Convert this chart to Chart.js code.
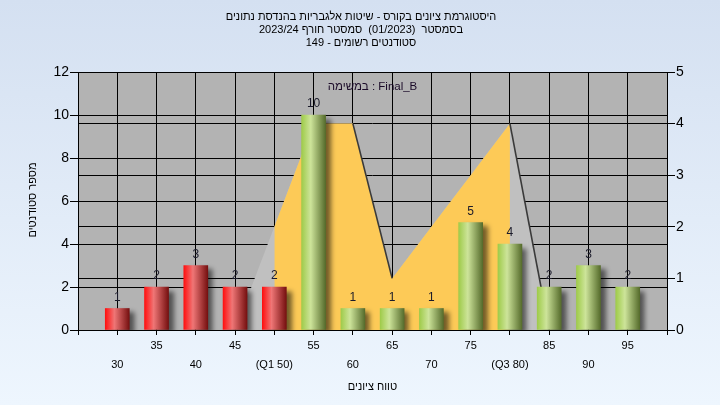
<!DOCTYPE html>
<html><head><meta charset="utf-8">
<script src="https://cdn.jsdelivr.net/npm/chart.js@4.4.1/dist/chart.umd.min.js"></script>
<style>html,body{margin:0;padding:0;background:#fff;}canvas{display:block;}</style>
</head><body>
<canvas id="c" width="720" height="405"></canvas>
<script>
// ---- data ----
const titleLines = [
  'היסטוגרמת ציונים בקורס - שיטות אלגבריות בהנדסת נתונים',
  'בסמסטר  (01/2023)  סמסטר חורף 2023/24',
  'סטודנטים רשומים - 149'
];
const xAxisTitle = 'טווח ציונים';
const yAxisTitle = 'מספר סטודנטים';
const taskNote = 'במשימה : Final_B';
const scoreBins = [30, 35, 40, 45, 50, 55, 60, 65, 70, 75, 80, 85, 90, 95];
const studentCounts = [1, 2, 3, 2, 2, 10, 1, 1, 1, 5, 4, 2, 3, 2];
const binLabels = ['30', '35', '40', '45', '(Q1 50)', '55', '60', '65', '70', '75', '(Q3 80)', '85', '90', '95'];
const passingScore = 55;
const curveX = [45, 50, 55, 60, 65, 70, 75, 80, 85];
const curveY = [0, 2, 4, 4, 1, 2, 3, 4, 0];
const q1 = 50, q3 = 80;
const leftTicks = [0, 12, 2];   // min, max, step
const rightTicks = [0, 5, 1];
const xRange = [25, 100, 5];

// ---- derived ----
const barPts = scoreBins.map((x, i) => ({ x: x, y: studentCounts[i] }));
const curvePts = curveX.map((x, i) => ({ x: x, y: curveY[i] }));
const orangePts = [{ x: q1, y: 0 }]
  .concat(curvePts.filter(p => p.x >= q1 && p.x <= q3))
  .concat([{ x: q3, y: 0 }]);

const FONT = "'Liberation Sans', Arial, sans-serif";
Chart.defaults.font.family = FONT;
Chart.defaults.color = '#000';

function barGradient(context) {
  const chart = context.chart;
  if (!chart.chartArea || !chart.scales.x) return '#c03030';
  const i = context.dataIndex;
  const x = chart.scales.x.getPixelForValue(scoreBins[i]);
  const g = chart.ctx.createLinearGradient(x - 12, 0, x + 12, 0);
  if (scoreBins[i] < passingScore) {
    g.addColorStop(0, '#ff1010');
    g.addColorStop(0.38, '#ef7676');
    g.addColorStop(1, '#761010');
  } else {
    g.addColorStop(0, '#9fcb4a');
    g.addColorStop(0.38, '#cde49a');
    g.addColorStop(1, '#566c2c');
  }
  return g;
}

const decor = {
  id: 'decor',
  beforeDraw(chart) {
    const { ctx, chartArea: a, width, height } = chart;
    ctx.save();
    const g = ctx.createLinearGradient(0, 0, 0, height);
    g.addColorStop(0, '#d4e0f1');
    g.addColorStop(1, '#eef6fe');
    ctx.fillStyle = g;
    ctx.fillRect(0, 0, width, height);
    ctx.fillStyle = '#b3b3b3';
    ctx.fillRect(a.left, a.top, a.right - a.left, a.bottom - a.top);
    ctx.restore();
  },
  beforeDatasetDraw(chart, args) {
    if (args.index === 0) {
      const ctx = chart.ctx;
      ctx.save();
      ctx.shadowColor = 'rgba(0,0,0,0.55)';
      ctx.shadowBlur = 5;
      ctx.shadowOffsetX = 5;
      ctx.shadowOffsetY = 4;
    }
  },
  afterDatasetDraw(chart, args) {
    if (args.index === 0) chart.ctx.restore();
  },
  afterDraw(chart) {
    const { ctx, chartArea: a } = chart;
    ctx.save();
    // bar value labels
    const meta = chart.getDatasetMeta(0);
    ctx.font = '12px ' + FONT;
    ctx.fillStyle = '#1a1a2a';
    ctx.textAlign = 'center';
    ctx.textBaseline = 'middle';
    ctx.direction = 'ltr';
    meta.data.forEach((el, i) => {
      ctx.fillText(String(studentCounts[i]), el.x, el.y - 11);
    });
    // task note
    ctx.font = '11.5px ' + FONT;
    ctx.fillStyle = '#1a0a28';
    ctx.fillText(taskNote, (a.left + a.right) / 2, 87);
    // titles
    ctx.direction = 'rtl';
    ctx.fillStyle = '#000';
    ctx.font = '11px ' + FONT;
    titleLines.forEach((t, i) => ctx.fillText(t, 361, 17 + i * 13));
    ctx.fillText(xAxisTitle, (a.left + a.right) / 2, 387);
    ctx.translate(33, 200);
    ctx.rotate(-Math.PI / 2);
    ctx.fillText(yAxisTitle, 0, 0);
    ctx.restore();
  }
};

new Chart(document.getElementById('c'), {
  type: 'bar',
  data: {
    datasets: [
      { type: 'bar', data: barPts, yAxisID: 'y', backgroundColor: barGradient, borderWidth: 0, barThickness: 24, order: 1 },
      { type: 'line', data: curvePts, yAxisID: 'y1', fill: false, pointRadius: 0, borderWidth: 1.6, tension: 0, order: 2,
        borderColor: '#3a3a3a',
        segment: { borderColor: c => (c.p1.parsed.y < c.p0.parsed.y ? '#3a3a3a' : 'rgba(0,0,0,0)') } },
      { type: 'line', data: orangePts, yAxisID: 'y1', fill: 'origin', backgroundColor: '#fdca57', borderWidth: 0, pointRadius: 0, tension: 0, order: 3 },
      { type: 'line', data: curvePts, yAxisID: 'y1', fill: 'origin', backgroundColor: '#c0c0c0', borderWidth: 0, pointRadius: 0, tension: 0, order: 4 }
    ]
  },
  options: {
    responsive: false,
    animation: false,
    devicePixelRatio: 1,
    layout: { padding: { top: 72, bottom: 35, left: 0, right: 0 } },
    plugins: { legend: { display: false }, tooltip: { enabled: false }, title: { display: false } },
    scales: {
      x: {
        type: 'linear', min: xRange[0], max: xRange[1], offset: false,
        ticks: {
          stepSize: xRange[2], autoSkip: false, maxRotation: 0, minRotation: 0, padding: 1,
          font: { size: 11, lineHeight: 1.75 }, color: '#000',
          callback: v => {
            const i = scoreBins.indexOf(v);
            if (i < 0) return '';
            return i % 2 === 1 ? [binLabels[i]] : ['', binLabels[i]];
          }
        },
        grid: { color: '#000', lineWidth: 1, tickLength: 5, offset: false, drawOnChartArea: true },
        border: { color: '#000' },
        afterFit: s => { s.height = 40; }
      },
      y: {
        position: 'left', min: leftTicks[0], max: leftTicks[1],
        ticks: { stepSize: leftTicks[2], padding: 1, font: { size: 14 }, color: '#000' },
        grid: { color: '#000', lineWidth: 1, tickLength: 8 },
        border: { color: '#000' },
        afterFit: s => { s.width = 78; }
      },
      y1: {
        position: 'right', min: rightTicks[0], max: rightTicks[1],
        ticks: { stepSize: rightTicks[2], padding: 1, font: { size: 14 }, color: '#000' },
        grid: { color: '#000', lineWidth: 1, tickLength: 8, drawOnChartArea: true },
        border: { color: '#000' },
        afterFit: s => { s.width = 53; }
      }
    }
  },
  plugins: [decor]
});
</script>
</body></html>
